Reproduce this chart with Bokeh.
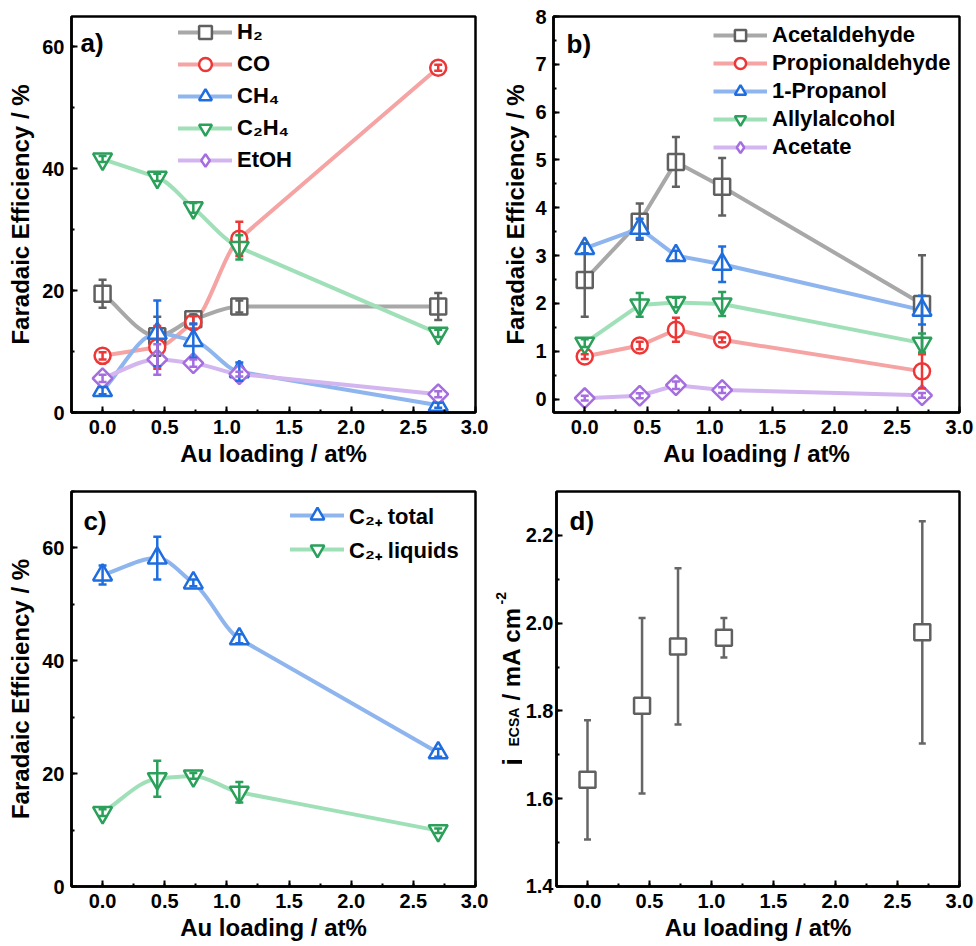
import numpy as np
from math import pi
from bokeh.plotting import figure
from bokeh.models import (Range1d, SingleIntervalTicker, NumeralTickFormatter, Label,
                          Legend, LegendItem, Whisker, TeeHead, ColumnDataSource)
from bokeh.layouts import row, column
from bokeh.embed import file_html
from bokeh.resources import INLINE

FONT = "Liberation Sans"

# ---------------- data ----------------
au_loading = [0.0, 0.44, 0.73, 1.1, 2.7]

# panel a: Faradaic efficiency / %
fe_h2 = [19.5, 12.5, 15.3, 17.4, 17.4]
fe_h2_err = [2.3, 3.2, 0.8, 1.0, 2.2]
fe_co = [9.3, 10.7, 14.8, 28.5, 56.6]
fe_co_err = [0.6, 3.5, 1.0, 2.8, 0.5]
fe_ch4 = [3.6, 13.0, 11.8, 6.7, 1.2]
fe_ch4_err = [0.6, 5.4, 2.8, 1.5, 0.4]
fe_c2h4 = [41.6, 38.6, 33.6, 27.1, 13.0]
fe_c2h4_err = [0.5, 0.6, 0.8, 2.0, 0.6]
fe_etoh = [5.6, 8.7, 8.1, 6.3, 3.0]
fe_etoh_err = [0.6, 2.5, 0.6, 0.4, 0.5]

# panel b
fe_acetaldehyde = [2.49, 3.71, 4.96, 4.44, 1.99]
fe_acetaldehyde_err = [0.77, 0.38, 0.52, 0.60, 1.02]
fe_propionaldehyde = [0.89, 1.12, 1.45, 1.24, 0.58]
fe_propionaldehyde_err = [0.05, 0.08, 0.25, 0.05, 0.36]
fe_propanol = [3.15, 3.57, 3.00, 2.82, 1.86]
fe_propanol_err = [0.10, 0.20, 0.10, 0.37, 0.30]
fe_allylalcohol = [1.17, 1.97, 2.02, 1.99, 1.17]
fe_allylalcohol_err = [0.08, 0.25, 0.10, 0.25, 0.20]
fe_acetate = [0.02, 0.07, 0.29, 0.19, 0.08]
fe_acetate_err = [0.05, 0.05, 0.08, 0.06, 0.05]

# panel c
fe_c2_total = [55.2, 58.2, 53.8, 43.9, 23.7]
fe_c2_total_err = [1.7, 3.8, 0.6, 0.8, 0.7]
fe_c2_liquids = [13.1, 19.1, 19.6, 16.7, 9.9]
fe_c2_liquids_err = [0.6, 3.2, 0.5, 1.8, 0.4]

# panel d: j_ECSA / mA cm-2
j_ecsa = [1.643, 1.812, 1.947, 1.967, 1.979]
j_ecsa_err = [0.136, 0.200, 0.178, 0.045, 0.253]

# ---------------- styles ----------------
GRAY = ("#a8a8a8", "#606060")
RED = ("#f5a3a3", "#ee3636")
BLUE = ("#8fb5ee", "#1f6ee0")
GREEN = ("#9fe0b8", "#2aa05a")
PURPLE = ("#d3b6ef", "#a56ddf")

X_LABEL = "Au loading / at%"
FE_LABEL = "Faradaic Efficiency / %"

TOP_ROW = dict(height=474, top=16, bottom=62)   # frame height 396
BOT_ROW = dict(height=472, top=17, bottom=60)   # frame height 395


def make_fig(width, rowspec, y0, y1, y_interval, y_fmt, left, right,
             ylab_standoff, y_label_standoff=7, y_label=FE_LABEL):
    p = figure(width=width, height=rowspec["height"], output_backend="svg",
               toolbar_location=None,
               x_range=Range1d(-0.25, 3.0), y_range=Range1d(y0, y1),
               min_border_left=left, min_border_right=right,
               min_border_top=rowspec["top"], min_border_bottom=rowspec["bottom"])
    p.xgrid.visible = False
    p.ygrid.visible = False
    p.outline_line_color = "black"
    p.outline_line_width = 2.5
    p.outline_line_alpha = 1.0
    p.background_fill_color = "white"
    p.border_fill_color = "white"
    p.xaxis.ticker = SingleIntervalTicker(interval=0.5, num_minor_ticks=2)
    p.xaxis.formatter = NumeralTickFormatter(format="0.0")
    p.yaxis.ticker = SingleIntervalTicker(interval=y_interval, num_minor_ticks=2)
    p.yaxis.formatter = NumeralTickFormatter(format=y_fmt)
    for ax in (p.xaxis[0], p.yaxis[0]):
        ax.axis_line_width = 2.5
        ax.axis_line_color = "black"
        ax.major_tick_in = 6
        ax.major_tick_out = 0
        ax.minor_tick_in = 3
        ax.minor_tick_out = 0
        ax.major_tick_line_width = 2
        ax.minor_tick_line_width = 2
        ax.major_tick_line_color = "black"
        ax.minor_tick_line_color = "black"
        ax.major_label_text_font = FONT
        ax.major_label_text_font_style = "bold"
        ax.major_label_text_font_size = "20px"
        ax.major_label_text_color = "black"
        ax.axis_label_text_font = FONT
        ax.axis_label_text_font_style = "bold"
        ax.axis_label_text_font_size = "24px"
        ax.axis_label_text_color = "black"
    p.xaxis.major_label_standoff = 7
    p.yaxis.major_label_standoff = y_label_standoff
    p.xaxis.axis_label = X_LABEL
    p.xaxis.axis_label_standoff = 3
    if y_label:
        p.yaxis.axis_label = y_label
        p.yaxis.axis_label_standoff = ylab_standoff
    return p


def text(p, s, x, y, size="24px", angle=0.0, align="left", baseline="alphabetic"):
    p.add_layout(Label(x=x, y=y, x_units="screen", y_units="screen", text=s, angle=angle,
                       text_align=align, text_baseline=baseline, text_font=FONT,
                       text_font_style="bold", text_font_size=size, text_color="black"))


def slopes(x, y):
    x = np.asarray(x, float)
    y = np.asarray(y, float)
    d = np.diff(y) / np.diff(x)
    m = np.zeros_like(y)
    for i in range(1, len(x) - 1):
        if d[i - 1] * d[i] > 0:
            m[i] = d[i - 1] if abs(d[i - 1]) < abs(d[i]) else d[i]
    m[0] = d[0]
    m[-1] = d[-1]
    return m


def smooth_line(p, x, y, color):
    x = np.asarray(x, float)
    y = np.asarray(y, float)
    m = slopes(x, y)
    h = np.diff(x)
    src = ColumnDataSource(dict(x0=x[:-1], y0=y[:-1], x1=x[1:], y1=y[1:],
                                cx0=x[:-1] + h / 3, cy0=y[:-1] + m[:-1] * h / 3,
                                cx1=x[1:] - h / 3, cy1=y[1:] - m[1:] * h / 3))
    return p.bezier(x0="x0", y0="y0", x1="x1", y1="y1", cx0="cx0", cy0="cy0",
                    cx1="cx1", cy1="cy1", source=src, line_color=color, line_width=4,
                    line_cap="round")


def straight_line(p, x, y, color):
    return p.line(x, y, line_color=color, line_width=4, line_join="round")


SIZES = {"square": 16, "circle": 16, "triangle": 19, "inverted_triangle": 19}


def markers(p, x, y, marker, color):
    if marker == "diamond":
        # legend symbol (fully covered by the rotated square drawn on top)
        leg = p.scatter(x, y, marker="diamond", size=16, line_color=color,
                        line_width=2.5, fill_color="white")
        r = p.scatter(x, y, marker="square", size=14, angle=pi / 4, line_color=color,
                      line_width=2.5, fill_color="white")
        return r, leg
    r = p.scatter(x, y, marker=marker, size=SIZES[marker], line_color=color, line_width=2.5,
                  fill_color="white")
    return r, r


def errbars(p, x, y, err, color, head=8, level="annotation"):
    y = np.asarray(y, float)
    e = np.asarray(err, float)
    src = ColumnDataSource(dict(x=list(x), lower=y - e, upper=y + e))
    w = Whisker(base="x", lower="lower", upper="upper", source=src, line_color=color,
                line_width=2.5, level=level,
                upper_head=TeeHead(size=head, line_color=color, line_width=2.5),
                lower_head=TeeHead(size=head, line_color=color, line_width=2.5))
    p.add_layout(w)


def legend(p, items, loc, step):
    lg = Legend(items=[LegendItem(label=lab, renderers=rs) for lab, rs in items],
                location=loc, orientation="vertical", glyph_width=54, glyph_height=step,
                label_height=step, spacing=0, padding=0, margin=0, label_standoff=5,
                border_line_color=None, background_fill_alpha=0.0,
                label_text_font=FONT, label_text_font_style="bold",
                label_text_font_size="22px", label_text_color="black")
    p.add_layout(lg)


def plot_series(p, series, line_fn, level="annotation", head=8):
    lines = [line_fn(p, au_loading, y, c[0]) for (_, y, _, _, c) in series]
    marks = [markers(p, au_loading, y, mk, c[1]) for (_, y, _, mk, c) in series]
    for (_, y, e, _, c) in series:
        errbars(p, au_loading, y, e, c[1], head=head, level=level)
    return [(lab, [l, m[1]]) for (lab, _, _, _, _), l, m in zip(series, lines, marks)]


# ---------------- panel a ----------------
pa = make_fig(488, TOP_ROW, 0, 65, 20, "0", 71, 13, 5)
items = plot_series(pa, [
    ("H₂", fe_h2, fe_h2_err, "square", GRAY),
    ("CO", fe_co, fe_co_err, "circle", RED),
    ("CH₄", fe_ch4, fe_ch4_err, "triangle", BLUE),
    ("C₂H₄", fe_c2h4, fe_c2h4_err, "inverted_triangle", GREEN),
    ("EtOH", fe_etoh, fe_etoh_err, "diamond", PURPLE),
], smooth_line)
legend(pa, items, (107, 236), 32)
text(pa, "a)", 9, 396 - 26, size="26px", baseline="middle")

# ---------------- panel b ----------------
pb = make_fig(488, TOP_ROW, -0.28, 8, 1, "0", 65, 17, 3)
items = plot_series(pb, [
    ("Acetaldehyde", fe_acetaldehyde, fe_acetaldehyde_err, "square", GRAY),
    ("Propionaldehyde", fe_propionaldehyde, fe_propionaldehyde_err, "circle", RED),
    ("1-Propanol", fe_propanol, fe_propanol_err, "triangle", BLUE),
    ("Allylalcohol", fe_allylalcohol, fe_allylalcohol_err, "inverted_triangle", GREEN),
    ("Acetate", fe_acetate, fe_acetate_err, "diamond", PURPLE),
], straight_line)
legend(pb, items, (160, 251), 28)
text(pb, "b)", 13, 396 - 27, size="26px", baseline="middle")

# ---------------- panel c ----------------
pc = make_fig(488, BOT_ROW, 0, 70, 20, "0", 71, 13, 5)
items = plot_series(pc, [
    ("C₂₊ total", fe_c2_total, fe_c2_total_err, "triangle", BLUE),
    ("C₂₊ liquids", fe_c2_liquids, fe_c2_liquids_err, "inverted_triangle", GREEN),
], smooth_line)
legend(pc, items, (219, 320), 34)
text(pc, "c)", 12, 395 - 29, size="26px", baseline="middle")

# ---------------- y-label strip for panel d ----------------
plab = figure(width=34, height=BOT_ROW["height"], output_backend="svg",
              toolbar_location=None, x_axis_type=None, y_axis_type=None,
              min_border=0, min_border_left=0, min_border_right=0,
              min_border_top=BOT_ROW["top"], min_border_bottom=BOT_ROW["bottom"],
              x_range=Range1d(0, 1), y_range=Range1d(0, 1))
plab.xgrid.visible = False
plab.ygrid.visible = False
plab.outline_line_color = None
plab.background_fill_color = "white"
plab.border_fill_color = "white"
# positions relative to the strip's frame, which spans the same height as panel d's frame
text(plab, "j", 23, 121, size="26px", angle=pi / 2)
text(plab, "ECSA", 25, 140, size="14px", angle=pi / 2)
text(plab, "/ mA cm", 23, 186, angle=pi / 2)
text(plab, "-2", 12, 282, size="14px", angle=pi / 2)

# ---------------- panel d ----------------
pd = make_fig(454, BOT_ROW, 1.3999, 2.3, 0.2, "0.0", 31, 17, 0,
              y_label_standoff=3, y_label=None)
errbars(pd, au_loading, j_ecsa, j_ecsa_err, "#666666", head=7, level="underlay")
markers(pd, au_loading, j_ecsa, "square", "#606060")
text(pd, "d)", 13, 395 - 29, size="26px", baseline="middle")

layout = column(row(pa, pb), row(pc, plab, pd))
open("out.html", "w").write(file_html(layout, INLINE))
